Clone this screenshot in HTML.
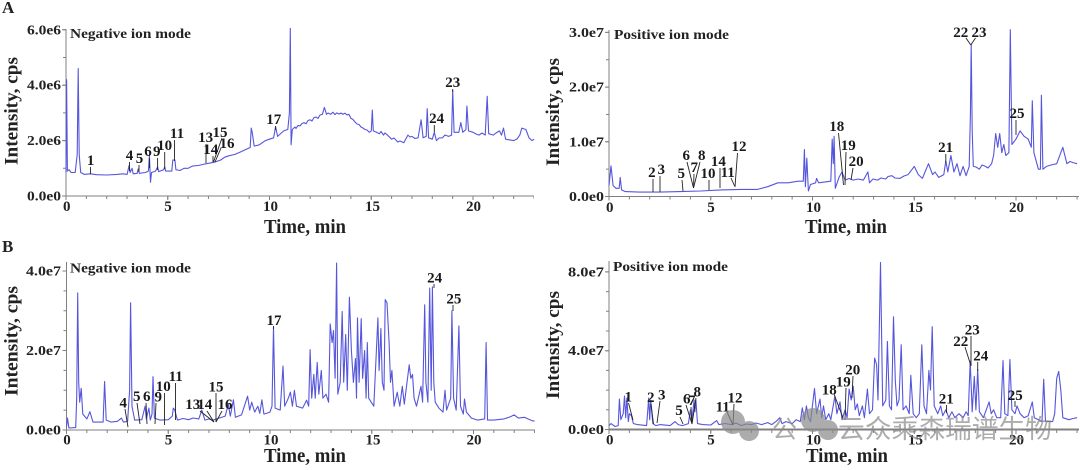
<!DOCTYPE html>
<html>
<head>
<meta charset="utf-8">
<style>
html,body{margin:0;padding:0;background:#fff;}
svg{display:block;}
</style>
</head>
<body>
<svg width="1080" height="470" viewBox="0 0 1080 470" xmlns="http://www.w3.org/2000/svg" font-family="'Liberation Serif','Times New Roman',serif" font-weight="bold">
<rect width="1080" height="470" fill="#fff"/>

<!-- ===================== PANEL A LEFT ===================== -->
<g stroke="#808080" fill="none">
  <line x1="66" y1="29" x2="66" y2="196.5" stroke-width="1"/>
  <line x1="66" y1="196" x2="534" y2="196" stroke-width="1"/>
  <line x1="65.5" y1="197.5" x2="534" y2="197.5" stroke-width="3" stroke-dasharray="1 19.35"/>
  <line x1="65.5" y1="198" x2="534" y2="198" stroke-width="4" stroke-dasharray="1 100.75"/>
  <line x1="64.5" y1="196.5" x2="64.5" y2="29" stroke-width="3" stroke-dasharray="1 26.7"/>
  <line x1="64" y1="196.5" x2="64" y2="29" stroke-width="4" stroke-dasharray="1 54.4"/>
</g>
<polyline fill="none" stroke="#5656dc" stroke-width="1.1" stroke-linejoin="round" points="66.0,172.5 66.6,79.7 67.4,171.1 69.1,169.7 71.1,172.5 75.2,172.5 77.2,154.4 78.2,68.6 79.2,154.4 80.7,172.5 84.3,174.4 90.4,173.8 96.5,174.7 106.7,175 116.9,174.4 123.0,173.8 127.1,174.4 129.1,165.5 130.1,172.5 132.1,168.3 133.2,173.8 137.2,173.3 138.2,168.9 139.3,173.3 145.4,172.5 148.4,171.1 149.4,155.8 150.5,182.2 151.5,172.5 155.5,171.1 157.6,166.9 158.6,171.6 163.7,169.7 164.7,166.9 165.7,171.1 171.8,171.1 172.8,160.0 174.9,160.0 175.9,169.7 180.0,170.5 184.0,168.3 188.1,168.3 192.2,166.1 198.3,165.5 204.4,164.1 208.5,163.3 214.6,162.2 220.7,160.0 224.7,157.2 228.8,155.8 234.9,154.4 241.0,151.7 247.1,148.9 250.2,147.5 251.2,128.1 252.2,132.3 254.2,146.1 259.3,144.8 265.4,140.6 269.5,139.2 273.6,137.8 275.6,126.8 277.6,136.4 283.7,130.9 287.8,129.5 289.4,112.9 290.3,28.4 291.1,144.8 292.3,129.5 295,127 296,128.5 298.0,125.4 300,126 302,123.5 304.1,122.6 306,123.8 308,120.5 310.2,119.8 312,121 314,117.5 316.3,117.1 318,118.5 320,115 322.4,114.3 324.4,107.4 326.5,114.3 328,113 330.6,114.3 333,112.2 335,114.6 336.7,112.9 339,114 341,113 342.8,114.3 345,113.2 347,115 348.9,114.3 350.9,118.4 353,119.5 355,122 357.0,124.0 359,124.5 361,127 363.1,128.1 365,129.5 367,130 369.2,132.3 371.3,130.9 372.3,110.1 373.3,130.9 376,132 379.4,133.7 381,131.5 383.5,135.1 385,133 387.5,135.1 391.6,139.2 394,138 397.7,142.0 400,141 403.8,142.8 407.9,135.1 410,137 412.0,136.4 415,138.5 418.1,137.8 421.1,119.8 423.1,137.8 426.2,136.4 427.2,108.7 428.6,137.8 432.3,139.2 434.3,132.3 436.4,140.6 439,138 442.5,137.8 445,135 448.6,136.4 451.6,135.1 452.7,90.7 454.1,132.3 458.8,132.3 460.8,122.6 462.8,132.3 465.9,129.5 466.9,106.0 468.5,130.9 473.0,132.3 476,134 479.1,135.1 482,133 485.2,135.1 487.2,96.3 488.7,133.7 493.4,135.1 496,133 499.5,130.9 501.5,135.1 503.5,128.1 505.6,139.2 509,139.8 513.7,140.6 517,139 519.8,135.1 521.8,128.1 525.9,129.5 529.0,137.8 532.0,140.6 534.1,139.2"/>
<g font-size="13.5" fill="#222" text-anchor="end">
  <text x="61" y="34.3" textLength="34" lengthAdjust="spacingAndGlyphs">6.0e6</text>
  <text x="61" y="89.7" textLength="34" lengthAdjust="spacingAndGlyphs">4.0e6</text>
  <text x="61" y="145.1" textLength="34" lengthAdjust="spacingAndGlyphs">2.0e6</text>
  <text x="61" y="200.5" textLength="34" lengthAdjust="spacingAndGlyphs">0.0e0</text>
</g>
<g font-size="15" fill="#222" text-anchor="middle">
  <text x="66.7" y="211">0</text>
  <text x="168" y="211">5</text>
  <text x="270.5" y="211">10</text>
  <text x="372.5" y="211">15</text>
  <text x="473.5" y="211">20</text>
</g>
<text x="305" y="233" font-size="19.5" fill="#222" text-anchor="middle" textLength="82" lengthAdjust="spacingAndGlyphs">Time, min</text>
<text transform="translate(17.5,111) rotate(-90)" font-size="19" fill="#222" text-anchor="middle" textLength="108" lengthAdjust="spacingAndGlyphs">Intensity, cps</text>
<text x="70" y="38" font-size="14" fill="#222" textLength="121" lengthAdjust="spacingAndGlyphs">Negative ion mode</text>
<text x="2" y="13" font-size="17" fill="#222">A</text>
<g stroke="#222" stroke-width="0.9" fill="none">
  <line x1="90.5" y1="167" x2="90.5" y2="174"/>
  <line x1="129.5" y1="162" x2="129.5" y2="171"/>
  <line x1="139" y1="165" x2="139" y2="172"/>
  <line x1="149.4" y1="158" x2="149.4" y2="168"/>
  <line x1="157.6" y1="158" x2="157.6" y2="170"/>
  <line x1="164.7" y1="152" x2="164.7" y2="169"/>
  <line x1="174.5" y1="140" x2="174.5" y2="161"/>
  <line x1="206" y1="144" x2="206" y2="163"/>
  <line x1="213" y1="156" x2="213" y2="162"/>
  <line x1="222" y1="138" x2="213.5" y2="162"/>
  <line x1="221" y1="148" x2="215" y2="162"/>
  <line x1="275.6" y1="126" x2="275.6" y2="130"/>
  <line x1="452.7" y1="89" x2="452.7" y2="92"/>
  <line x1="434.3" y1="125" x2="434.3" y2="132"/>
</g>
<g font-size="15" fill="#1a1a1a" text-anchor="middle">
  <text x="90.6" y="165">1</text>
  <text x="129.5" y="160">4</text>
  <text x="139.5" y="163">5</text>
  <text x="148" y="156">6</text>
  <text x="156.7" y="156">9</text>
  <text x="164.6" y="150">10</text>
  <text x="177" y="138">11</text>
  <text x="205.6" y="142">13</text>
  <text x="220" y="137">15</text>
  <text x="210.7" y="154">14</text>
  <text x="227" y="148">16</text>
  <text x="273.8" y="124">17</text>
  <text x="452.8" y="87">23</text>
  <text x="436.6" y="123">24</text>
</g>

<!-- ===================== PANEL A RIGHT ===================== -->
<g stroke="#808080" fill="none">
  <line x1="609" y1="30" x2="609" y2="197" stroke-width="1"/>
  <line x1="609" y1="196.5" x2="1079" y2="196.5" stroke-width="1"/>
  <line x1="608.5" y1="198" x2="1079" y2="198" stroke-width="3" stroke-dasharray="1 19.35"/>
  <line x1="608.5" y1="198.5" x2="1079" y2="198.5" stroke-width="4" stroke-dasharray="1 100.75"/>
  <line x1="607.5" y1="197" x2="607.5" y2="30" stroke-width="3" stroke-dasharray="1 26.35"/>
  <line x1="607" y1="197" x2="607" y2="30" stroke-width="4" stroke-dasharray="1 53.7"/>
</g>
<polyline fill="none" stroke="#5656dc" stroke-width="1.1" stroke-linejoin="round" points="609.0,185.6 611.0,165.9 613.1,185.6 616.1,188.3 619.2,188.3 620.2,177.4 621.6,189.9 625.3,191.6 639.5,192.1 659.9,192.1 680.2,191.6 700.6,191.0 720.9,189.9 741.3,189.4 757.6,189.4 767.7,186.7 777.9,182.8 788.1,182.8 798.3,181.2 803.3,181.2 804.4,149.5 805.4,186.7 806.8,158.2 808.4,191.0 810.5,184.5 815.6,182.8 816.6,178.4 818.6,182.8 830.8,181.2 832.2,139.1 833.3,163.7 834.1,136.3 835.3,188.3 839.0,177.4 842.0,171.9 845.1,180.1 849,178.5 853.2,180.1 858,179 863.4,180.1 867.9,171.9 869.5,182.8 873,179 877.6,180.1 881,178 885.8,179.0 888,176.5 891.9,175.7 895,178 900.0,178.4 904,176 908.1,174.6 914.3,166.4 918.3,174.6 922.4,178.4 925,172 928.5,163.7 932.6,174.6 935,172 938.7,177.4 943.8,174.6 945.8,161.0 947.8,171.9 950.9,155.5 953.9,171.9 957.0,163.7 960.0,175.7 963.1,166.4 966.1,175.7 969.2,166.4 970.4,114.5 971.2,44.4 972.2,130.9 973.3,166.4 976,167 979.4,169.2 982,165 985.5,166.4 988,168 991.6,163.7 993.6,155.5 995.7,133.6 997.7,147.3 999.7,133.6 1001.8,152.7 1003.8,144.5 1005.8,155.5 1008.9,152.7 1010.3,29.7 1011.9,144.5 1016.0,139.1 1020.1,130.9 1024.1,136.3 1028.2,139.1 1031.3,147.3 1032.3,100.8 1033.9,152.7 1038.4,169.2 1040.4,169.2 1041.4,95.3 1042.9,169.2 1046.5,166.4 1051,165 1056.7,163.7 1062.8,147.3 1066.9,163.7 1070,161.5 1073.0,162.6 1077.1,163.7"/>
<g font-size="13.5" fill="#222" text-anchor="end">
  <text x="604" y="37" textLength="35" lengthAdjust="spacingAndGlyphs">3.0e7</text>
  <text x="604" y="91.6" textLength="35" lengthAdjust="spacingAndGlyphs">2.0e7</text>
  <text x="604" y="146.3" textLength="35" lengthAdjust="spacingAndGlyphs">1.0e7</text>
  <text x="604" y="201" textLength="35" lengthAdjust="spacingAndGlyphs">0.0e0</text>
</g>
<g font-size="15" fill="#222" text-anchor="middle">
  <text x="609.7" y="212">0</text>
  <text x="711" y="212">5</text>
  <text x="813.5" y="212">10</text>
  <text x="915.5" y="212">15</text>
  <text x="1016.5" y="212">20</text>
</g>
<text x="846" y="233" font-size="19.5" fill="#222" text-anchor="middle" textLength="82" lengthAdjust="spacingAndGlyphs">Time, min</text>
<text transform="translate(559,112) rotate(-90)" font-size="19" fill="#222" text-anchor="middle" textLength="108" lengthAdjust="spacingAndGlyphs">Intensity, cps</text>
<text x="614" y="39" font-size="14" fill="#222" textLength="115" lengthAdjust="spacingAndGlyphs">Positive ion mode</text>
<g stroke="#222" stroke-width="0.9" fill="none">
  <line x1="653" y1="179" x2="653" y2="192"/>
  <line x1="660" y1="176" x2="660" y2="192"/>
  <line x1="682" y1="180" x2="683" y2="191"/>
  <line x1="687" y1="162" x2="693.5" y2="188"/>
  <line x1="694" y1="174" x2="693.5" y2="188"/>
  <line x1="700" y1="162" x2="693.5" y2="188"/>
  <line x1="709" y1="180" x2="709" y2="190"/>
  <line x1="720" y1="168" x2="720" y2="188"/>
  <line x1="731" y1="178" x2="734.6" y2="186"/>
  <line x1="737.5" y1="153" x2="735" y2="187"/>
  <line x1="838.5" y1="133" x2="843.5" y2="185"/>
  <line x1="846" y1="152" x2="845" y2="185"/>
  <line x1="853" y1="168" x2="851" y2="180"/>
  <line x1="945.8" y1="154" x2="945.8" y2="163"/>
  <line x1="966" y1="38" x2="970.8" y2="45"/>
  <line x1="975.5" y1="38" x2="970.8" y2="45"/>
  <line x1="1016" y1="120" x2="1016" y2="135"/>
</g>
<g font-size="15" fill="#1a1a1a" text-anchor="middle">
  <text x="651.9" y="177">2</text>
  <text x="661.2" y="174">3</text>
  <text x="681.2" y="178">5</text>
  <text x="686.3" y="160">6</text>
  <text x="694.3" y="172">7</text>
  <text x="701.8" y="160">8</text>
  <text x="708" y="178">10</text>
  <text x="718.4" y="166">14</text>
  <text x="727.7" y="177">11</text>
  <text x="739" y="151">12</text>
  <text x="836.8" y="131">18</text>
  <text x="848.2" y="150">19</text>
  <text x="856.1" y="166">20</text>
  <text x="945.6" y="152">21</text>
  <text x="960.8" y="37">22</text>
  <text x="979" y="37">23</text>
  <text x="1017" y="118">25</text>
</g>

<!-- ===================== PANEL B LEFT ===================== -->
<g stroke="#808080" fill="none">
  <line x1="66.5" y1="262" x2="66.5" y2="430.5" stroke-width="1"/>
  <line x1="66.5" y1="430" x2="535" y2="430" stroke-width="1"/>
  <line x1="66" y1="431.5" x2="535" y2="431.5" stroke-width="3" stroke-dasharray="1 19.35"/>
  <line x1="66" y1="432" x2="535" y2="432" stroke-width="4" stroke-dasharray="1 100.75"/>
  <line x1="65" y1="430.5" x2="65" y2="262" stroke-width="3" stroke-dasharray="1 18.875"/>
  <line x1="64.5" y1="430.5" x2="64.5" y2="262" stroke-width="4" stroke-dasharray="1 78.5"/>
</g>
<polyline fill="none" stroke="#5656dc" stroke-width="1.1" stroke-linejoin="round" points="66.5,426.8 67.5,418.1 68.9,428.0 75.7,427.6 76.7,398.2 77.7,292.9 78.7,382.3 79.7,402.2 81.2,388.3 82.8,414.1 86.9,418.9 89.9,411.7 93.0,422.1 103.1,422.1 104.6,381.5 106.2,420.1 111.3,422.1 117.4,421.3 121.4,418.1 123.5,422.1 127.6,421.3 129.6,390.3 130.6,302.8 132.0,406.2 134.7,420.1 141.8,419.7 145.1,406.2 146.3,418.9 148.9,408.1 150.3,420.1 152.0,414.1 153.0,376.7 154.4,418.1 160.1,420.1 168.3,419.7 172.3,416.1 173.3,408.1 174.8,410.1 177.4,420.1 183,418.5 188.6,419.7 193,418 198.8,418.9 201.8,410.1 204.9,420.1 209,419 213.0,420.1 219.1,418.1 225.2,416.1 228.3,404.2 230.3,416.1 233.4,399.8 235.4,417.3 241.5,414.9 247.6,396.2 249.7,410.1 251.7,402.2 254.7,412.1 257.8,406.2 259.8,413.3 261.9,399.8 263.9,414.1 270.0,412.1 272.0,406.2 273.5,327.4 275.1,408.1 280.2,410.1 283.0,366.0 284.7,406.2 288.3,398.2 290.4,392.2 292.4,406.2 294.4,390.3 296.5,406.2 302.6,408.1 306.6,400.2 308.7,406.2 310.1,349.7 311.7,398.2 313.8,374.4 315.2,398.2 317.2,362.4 318.8,394.2 321.3,370.4 322.9,398.2 326.0,394.2 328.6,402.2 330.2,323.9 332.1,342.6 333.5,330.6 335.1,378.3 336.6,263.0 337.8,394.2 340.2,382.3 342.2,311.5 343.7,382.3 345.7,334.6 347.3,390.3 349.4,297.2 351.4,350.5 353.4,382.3 355.5,358.5 356.5,398.2 357.5,317.9 359.1,382.3 361.2,318.7 362.6,378.3 364.6,350.5 366.1,398.2 367.3,342.6 368.7,398.2 373.8,406.2 377.9,317.9 379.1,370.4 380.9,328.6 382.3,382.3 384.0,390.3 385.2,299.6 387.0,302.8 389.1,342.6 390.5,382.3 391.9,370.4 394.1,406.2 397.2,392.2 399.8,406.2 402.3,386.3 404.3,404.2 409.2,364.8 410.8,378.3 412.5,374.4 414.1,398.2 416.5,406.2 421.0,386.3 422.6,402.2 424.7,304.8 425.9,382.3 427.9,402.2 429.7,288.1 431.2,390.3 432.4,286.9 433.8,382.3 435.2,402.2 438.9,408.1 443.0,412.1 445.0,390.3 446.6,410.1 450.7,398.2 451.9,310.8 453.6,398.2 456.2,410.1 458.9,325.9 460.5,406.2 463.3,414.1 464.5,399.0 466.4,412.1 471.5,418.1 477.6,420.1 484.7,418.9 486.1,342.6 487.5,420.1 493.9,420.1 504.0,418.9 510.1,416.9 514.2,414.9 518.3,418.1 524.4,417.3 532.5,420.9 534.6,420.9"/>
<g font-size="13.5" fill="#222" text-anchor="end">
  <text x="61" y="275.5" textLength="35" lengthAdjust="spacingAndGlyphs">4.0e7</text>
  <text x="61" y="355" textLength="35" lengthAdjust="spacingAndGlyphs">2.0e7</text>
  <text x="61" y="434.5" textLength="35" lengthAdjust="spacingAndGlyphs">0.0e0</text>
</g>
<g font-size="15" fill="#222" text-anchor="middle">
  <text x="67" y="444.5">0</text>
  <text x="168.5" y="444.5">5</text>
  <text x="271" y="444.5">10</text>
  <text x="373" y="444.5">15</text>
  <text x="474" y="444.5">20</text>
</g>
<text x="305" y="462" font-size="19.5" fill="#222" text-anchor="middle" textLength="82" lengthAdjust="spacingAndGlyphs">Time, min</text>
<text transform="translate(17.5,341) rotate(-90)" font-size="19" fill="#222" text-anchor="middle" textLength="110" lengthAdjust="spacingAndGlyphs">Intensity, cps</text>
<text x="70" y="272.5" font-size="14" fill="#222" textLength="121" lengthAdjust="spacingAndGlyphs">Negative ion mode</text>
<text x="2" y="252" font-size="17" fill="#222">B</text>
<g stroke="#222" stroke-width="0.9" fill="none">
  <line x1="125" y1="409" x2="128" y2="427"/>
  <line x1="137" y1="403" x2="140" y2="424"/>
  <line x1="146" y1="403" x2="147" y2="424"/>
  <line x1="156" y1="403" x2="155" y2="424"/>
  <line x1="164.5" y1="393" x2="164.5" y2="425"/>
  <line x1="175.5" y1="383" x2="175.5" y2="420"/>
  <line x1="200" y1="411" x2="214" y2="422"/>
  <line x1="207" y1="411" x2="214" y2="422"/>
  <line x1="216" y1="393" x2="216" y2="422"/>
  <line x1="222" y1="411" x2="216" y2="422"/>
  <line x1="273.5" y1="326" x2="273.5" y2="329"/>
  <line x1="434" y1="284" x2="434" y2="288"/>
  <line x1="453" y1="305" x2="453" y2="311"/>
</g>
<g font-size="15" fill="#1a1a1a" text-anchor="middle">
  <text x="123.3" y="407.7">4</text>
  <text x="136.7" y="401">5</text>
  <text x="146.7" y="401">6</text>
  <text x="158.3" y="401.7">9</text>
  <text x="163.3" y="391">10</text>
  <text x="175.7" y="381">11</text>
  <text x="192.7" y="409">13</text>
  <text x="204.7" y="409">14</text>
  <text x="216" y="391.7">15</text>
  <text x="225" y="409">16</text>
  <text x="274" y="325">17</text>
  <text x="434.6" y="282.7">24</text>
  <text x="453.9" y="303.3">25</text>
</g>

<!-- ===================== PANEL B RIGHT ===================== -->
<g stroke="#808080" fill="none">
  <line x1="609" y1="261" x2="609" y2="430" stroke-width="1"/>
  <line x1="609" y1="429.5" x2="1079" y2="429.5" stroke-width="2"/>
  <line x1="608.5" y1="431.5" x2="1079" y2="431.5" stroke-width="3" stroke-dasharray="1 19.35"/>
  <line x1="608.5" y1="432" x2="1079" y2="432" stroke-width="4" stroke-dasharray="1 100.75"/>
  <line x1="607.5" y1="430" x2="607.5" y2="261" stroke-width="3" stroke-dasharray="1 18.7"/>
  <line x1="607" y1="430" x2="607" y2="261" stroke-width="4" stroke-dasharray="1 77.8"/>
</g>
<polyline fill="none" stroke="#5656dc" stroke-width="1.1" stroke-linejoin="round" points="609.0,425.6 611.0,423.6 615.1,426.5 618.2,425.6 619.4,399.0 620.8,419.7 623.2,413.7 624.5,396.0 625.7,417.7 626.9,398.0 628.3,421.6 629.4,413.7 631.4,415.7 633.4,423.6 637.5,424.6 646.6,425.6 648.7,398.0 649.7,419.7 650.7,400.0 652.8,423.6 655.8,425.6 659.9,424.6 670.1,425.6 675.1,421.6 678.2,424.6 682.3,425.6 688.4,423.6 690.4,409.8 691.8,421.6 694.1,400.0 694.9,411.8 695.9,400.0 697.5,423.6 702.6,424.6 710.8,425.0 716.7,420.6 718.9,424.6 725,423.5 731.1,424.6 736,423 741.3,425.6 746,424 751.5,424.6 756,423 761.6,424.6 767.7,422.6 771.8,424.6 775.9,421.6 779.9,417.7 782.0,423.6 786.0,421.6 792.2,423.6 796.2,419.7 800.3,421.6 802.3,407.8 804.4,419.7 806.4,405.9 808.4,417.7 810.5,421.6 814.5,388.5 816.6,413.7 820.0,399.0 821.7,417.7 823.5,405.9 825.7,419.7 828.8,413.7 830.8,419.7 834.9,396.0 836.9,413.7 840.0,401.9 842.0,419.7 845.1,409.8 847.1,417.7 849.1,389.1 851.2,400.0 853.2,386.2 855.2,409.8 857.3,403.9 859.3,415.7 862.4,405.9 864.4,417.7 867.4,389.1 869.5,413.7 872.5,409.8 874.6,358.0 876.6,364.5 878.0,400.0 880.5,262.6 882.7,405.9 885.8,400.0 887.4,341.4 889.4,405.9 891.5,409.8 893.5,316.8 895.3,380.3 897.0,405.9 899.0,400.0 901.2,344.8 903.1,409.8 906.1,405.9 909.2,413.7 910.8,375.3 913.2,413.7 916.3,417.7 919.3,413.7 921.8,344.8 924.0,405.9 926.5,413.7 928.9,370.4 930.5,390.1 932.2,326.7 934.2,405.9 937.7,413.7 940.7,405.9 942.7,415.7 945.8,409.8 948.8,417.7 951.9,411.8 954.9,417.7 959.0,413.7 963.1,417.7 966.1,411.8 968.2,415.7 970.2,361.1 972.2,411.8 974.3,376.3 975.9,409.8 977.7,369.4 979.4,411.8 983.4,417.7 989.1,401.9 991.2,413.7 993.6,409.8 996.7,417.7 1000.7,417.7 1003.0,360.6 1004.8,413.7 1007.9,415.7 1009.9,359.6 1011.9,409.8 1015.0,413.7 1017.0,405.9 1020.1,413.7 1024.1,417.7 1028.2,415.7 1032.3,401.9 1034.3,417.7 1038.4,419.7 1042.0,421.6 1043.7,379.3 1045.5,421.6 1052.6,421.6 1054.7,413.7 1056.7,378.3 1058.7,371.4 1060.8,390.1 1062.8,417.7 1068.9,419.7 1073,418.5 1077.1,417.7"/>
<g font-size="13.5" fill="#222" text-anchor="end">
  <text x="604" y="276.3" textLength="36" lengthAdjust="spacingAndGlyphs">8.0e7</text>
  <text x="604" y="355.1" textLength="36" lengthAdjust="spacingAndGlyphs">4.0e7</text>
  <text x="604" y="434" textLength="36" lengthAdjust="spacingAndGlyphs">0.0e0</text>
</g>
<g font-size="15" fill="#222" text-anchor="middle">
  <text x="609.7" y="444.5">0</text>
  <text x="711" y="444.5">5</text>
  <text x="813.5" y="444.5">10</text>
  <text x="915.5" y="444.5">15</text>
  <text x="1016.5" y="444.5">20</text>
</g>
<text x="847" y="462" font-size="19.5" fill="#222" text-anchor="middle" textLength="82" lengthAdjust="spacingAndGlyphs">Time, min</text>
<text transform="translate(559,345) rotate(-90)" font-size="19" fill="#222" text-anchor="middle" textLength="108" lengthAdjust="spacingAndGlyphs">Intensity, cps</text>
<text x="613" y="271" font-size="14" fill="#222" textLength="115" lengthAdjust="spacingAndGlyphs">Positive ion mode</text>
<g stroke="#222" stroke-width="0.9" fill="none">
  <line x1="628.5" y1="403" x2="633" y2="420"/>
  <line x1="651" y1="404" x2="653.5" y2="424"/>
  <line x1="660" y1="401" x2="657" y2="423"/>
  <line x1="680" y1="417" x2="683" y2="424"/>
  <line x1="686" y1="405" x2="692" y2="424"/>
  <line x1="691" y1="407" x2="692" y2="424"/>
  <line x1="696" y1="398" x2="692" y2="424"/>
  <line x1="727" y1="412" x2="733" y2="425"/>
  <line x1="734" y1="404" x2="733" y2="425"/>
  <line x1="834" y1="394" x2="843" y2="418"/>
  <line x1="846" y1="388" x2="845" y2="420"/>
  <line x1="853" y1="376" x2="852" y2="398"/>
  <line x1="946.5" y1="405" x2="946.5" y2="413"/>
  <line x1="965" y1="347" x2="971" y2="366"/>
  <line x1="971" y1="336" x2="971" y2="366"/>
  <line x1="977.7" y1="362" x2="977.7" y2="371"/>
  <line x1="1015" y1="401" x2="1015" y2="407"/>
</g>
<g font-size="15" fill="#1a1a1a" text-anchor="middle">
  <text x="628.3" y="401.7">1</text>
  <text x="650.7" y="402">2</text>
  <text x="661.7" y="399.3">3</text>
  <text x="679" y="415">5</text>
  <text x="686.7" y="403.3">6</text>
  <text x="691.7" y="405">7</text>
  <text x="697.2" y="396.7">8</text>
  <text x="722.7" y="411.7">11</text>
  <text x="735" y="402.3">12</text>
  <text x="829.3" y="394.3">18</text>
  <text x="843.3" y="386.7">19</text>
  <text x="852.7" y="374.3">20</text>
  <text x="946.3" y="403.3">21</text>
  <text x="960.8" y="346">22</text>
  <text x="972.2" y="334.3">23</text>
  <text x="980.8" y="360.7">24</text>
  <text x="1015.2" y="400">25</text>
</g>

<!-- watermark -->
<g opacity="0.7" fill="#8a8a8a">
  <circle cx="733" cy="422" r="12"/>
  <circle cx="749" cy="431" r="10"/>
  <circle cx="813" cy="420" r="12"/>
  <circle cx="828" cy="430" r="10"/>
  <text x="772" y="438" font-size="25" font-weight="normal" font-family="'Liberation Sans','Noto Sans CJK SC',sans-serif">公</text>
  <text x="838" y="438" font-size="26" font-weight="normal" font-family="'Liberation Sans','Noto Sans CJK SC',sans-serif" textLength="214" lengthAdjust="spacingAndGlyphs">云众乘森瑞谱生物</text>
</g>
</svg>
</body>
</html>
